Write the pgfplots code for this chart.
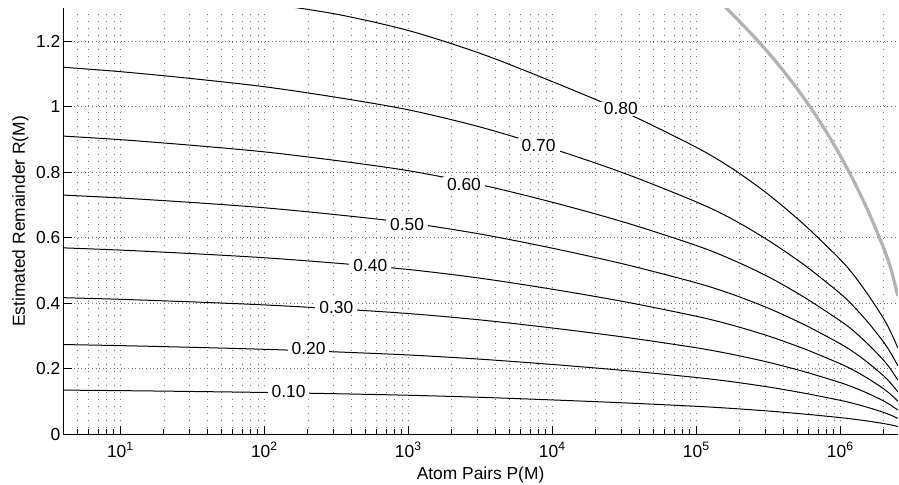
\documentclass[border=0pt]{standalone}
\usepackage{fontspec}
\setmainfont{Liberation Sans}
\usepackage{pgfplots}
\pgfplotsset{compat=1.18}
\begin{document}
\fontsize{8.7pt}{10pt}\selectfont
\begin{tikzpicture}
\begin{axis}[
  at={(0,0)}, anchor=south west,
  scale only axis,
  width=417.4pt, height=213.1pt,
  xmode=log,
  xmin=4, xmax=2.5e6,
  ymin=0, ymax=1.3,
  axis x line=bottom, axis y line=left,
  x axis line style={-, line width=0.5pt},
  y axis line style={-, line width=0.5pt},
  tick align=inside,
  major tick length=4.2pt, minor tick length=2.5pt,
  every tick/.style={black, line width=0.5pt},
  xtick={10,100,1000,10000,100000,1000000},
  xticklabels={10\textsuperscript{1},10\textsuperscript{2},10\textsuperscript{3},10\textsuperscript{4},10\textsuperscript{5},10\textsuperscript{6}},
  minor xtick={4,5,6,7,8,9,20,30,40,50,60,70,80,90,200,300,400,500,600,700,800,900,2000,3000,4000,5000,6000,7000,8000,9000,20000,30000,40000,50000,60000,70000,80000,90000,200000,300000,400000,500000,600000,700000,800000,900000,2000000},
  ytick={0,0.2,0.4,0.6,0.8,1,1.2},
  yticklabels={0,0.2,0.4,0.6,0.8,1,1.2},
  xticklabel style={inner sep=0pt, anchor=north, yshift=-3.5pt, font=\fontsize{8.7pt}{10pt}\selectfont},
  yticklabel style={inner sep=0pt, anchor=east, xshift=-1.3pt, font=\fontsize{8.7pt}{10pt}\selectfont},
  grid=both,
  major x grid style={black!55, line width=0.4pt, dash pattern=on 0.4pt off 3.1pt},
  minor x grid style={black!55, line width=0.4pt, dash pattern=on 0.4pt off 3.1pt},
  major y grid style={black!55, line width=0.4pt, dash pattern=on 0.4pt off 1.4pt},
  xlabel={Atom Pairs P(M)},
  ylabel={Estimated Remainder R(M)},
  xlabel style={at={(axis description cs:0.5,0)}, anchor=north, yshift=-16.2pt, inner sep=0pt, font=\fontsize{8.7pt}{10pt}\selectfont},
  ylabel style={at={(axis description cs:-0.0459,0.5)}, anchor=base, rotate=0, inner sep=0pt, font=\fontsize{8.7pt}{10pt}\selectfont},
  clip=true,
]
% contour 0.10
\addplot[black, line width=0.5pt, smooth] coordinates {(4,0.1350) (10,0.1334) (31.62,0.1308) (100,0.1278) (316.2,0.1239) (1000,0.1193) (3162,0.1130) (10000,0.1050) (31623,0.0960) (100000,0.0855) (177828,0.0790) (316228,0.0711) (562341,0.0618) (1000000,0.0510) (1258925,0.0459) (1584893,0.0398) (1995262,0.0329) (2238721,0.0288) (2500000,0.0240)};
% contour 0.20
\addplot[black, line width=0.5pt, smooth] coordinates {(4,0.2740) (10,0.2707) (31.62,0.2655) (100,0.2595) (316.2,0.2515) (1000,0.2422) (3162,0.2293) (10000,0.2132) (31623,0.1948) (100000,0.1734) (177828,0.1603) (316228,0.1444) (562341,0.1255) (1000000,0.1036) (1258925,0.0932) (1584893,0.0808) (1995262,0.0669) (2238721,0.0584) (2500000,0.0488)};
% contour 0.30
\addplot[black, line width=0.5pt, smooth] coordinates {(4,0.4170) (10,0.4120) (31.62,0.4041) (100,0.3949) (316.2,0.3828) (1000,0.3686) (3162,0.3490) (10000,0.3244) (31623,0.2965) (100000,0.2640) (177828,0.2439) (316228,0.2198) (562341,0.1910) (1000000,0.1576) (1258925,0.1418) (1584893,0.1230) (1995262,0.1017) (2238721,0.0888) (2500000,0.0742)};
% contour 0.40
\addplot[black, line width=0.5pt, smooth] coordinates {(4,0.5690) (10,0.5622) (31.62,0.5514) (100,0.5388) (316.2,0.5223) (1000,0.5030) (3162,0.4763) (10000,0.4427) (31623,0.4046) (100000,0.3602) (177828,0.3329) (316228,0.2999) (562341,0.2606) (1000000,0.2151) (1258925,0.1935) (1584893,0.1679) (1995262,0.1388) (2238721,0.1212) (2500000,0.1013)};
% contour 0.50
\addplot[black, line width=0.5pt, smooth] coordinates {(4,0.7300) (10,0.7212) (31.62,0.7074) (100,0.6913) (316.2,0.6701) (1000,0.6453) (3162,0.6110) (10000,0.5679) (31623,0.5190) (100000,0.4621) (177828,0.4271) (316228,0.3847) (562341,0.3343) (1000000,0.2759) (1258925,0.2482) (1584893,0.2154) (1995262,0.1781) (2238721,0.1555) (2500000,0.1299)};
% contour 0.60
\addplot[black, line width=0.5pt, smooth] coordinates {(4,0.9100) (10,0.8991) (31.62,0.8818) (100,0.8618) (316.2,0.8354) (1000,0.8044) (3162,0.7617) (10000,0.7080) (31623,0.6470) (100000,0.5760) (177828,0.5324) (316228,0.4805) (562341,0.4177) (1000000,0.3458) (1258925,0.3121) (1584893,0.2712) (1995262,0.2257) (2238721,0.1975) (2500000,0.1656)};
% contour 0.70
\addplot[black, line width=0.5pt, smooth] coordinates {(4,1.1200) (10,1.1066) (31.62,1.0853) (100,1.0606) (316.2,1.0282) (1000,0.9901) (3162,0.9374) (10000,0.8714) (31623,0.7963) (100000,0.7090) (177828,0.6563) (316228,0.5914) (562341,0.5163) (1000000,0.4290) (1258925,0.3864) (1584893,0.3371) (1995262,0.2811) (2238721,0.2475) (2500000,0.2094)};
% contour 0.80
\addplot[black, line width=0.5pt, smooth] coordinates {(100,1.316) (316.2,1.282) (1000,1.232) (3162,1.162) (10000,1.0760) (31623,0.9833) (100000,0.8754) (177828,0.8104) (316228,0.7316) (562341,0.6389) (1000000,0.5325) (1258925,0.4813) (1584893,0.4204) (1995262,0.3527) (2238721,0.3112) (2500000,0.2642)};
% gray bound
\addplot[black!30, line width=1.6pt, smooth] coordinates {(158489,1.303) (199526,1.259) (251189,1.213) (316228,1.164) (398107,1.111) (501187,1.054) (630957,0.992) (794328,0.924) (1000000,0.849) (1258925,0.766) (1584893,0.673) (1995262,0.568) (2238721,0.505) (2500000,0.422)};
% contour labels
\tikzset{clab/.style={fill=white, inner xsep=2pt, inner ysep=0.5pt, font=\fontsize{8.7pt}{10pt}\selectfont}}
\node[clab] at (axis cs:146.8,0.130) {0.10};
\node[clab] at (axis cs:202,0.262) {0.20};
\node[clab] at (axis cs:315,0.387) {0.30};
\node[clab] at (axis cs:543,0.515) {0.40};
\node[clab] at (axis cs:977,0.640) {0.50};
\node[clab] at (axis cs:2427,0.763) {0.60};
\node[clab] at (axis cs:8000,0.882) {0.70};
\node[clab] at (axis cs:29800,0.993) {0.80};
\end{axis}
\pgfresetboundingbox
\useasboundingbox (-31.65pt,-25.25pt) rectangle (418pt,217.25pt);
\end{tikzpicture}
\end{document}
